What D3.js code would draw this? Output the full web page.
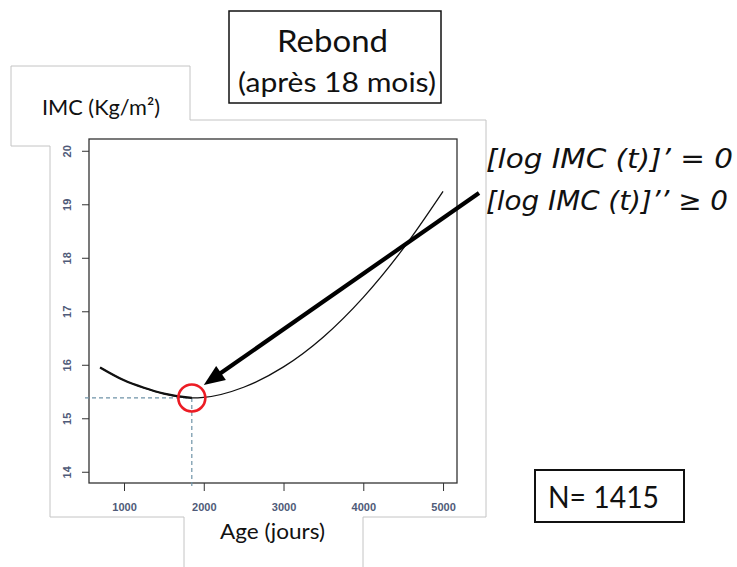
<!DOCTYPE html>
<html lang="fr">
<head>
  <meta charset="utf-8">
  <script src="https://cdn.jsdelivr.net/npm/d3@7"></script>
  <style>
    body { margin: 0; background: #fff; }
    svg { display: block; }
    .calibri { font-family: Lato, "Open Sans", sans-serif; fill: #111; }
    .tick text { font-family: "Liberation Sans", Arial, sans-serif; font-size: 11px; font-weight: bold; fill: #4f5a78; }
    .tick line { stroke: #333; }
  </style>
</head>
<body>
<svg id="chart" width="737" height="567"></svg>
<script>
  // values
  var ageDays = [700, 1000, 1250, 1500, 1850, 2000, 2500, 3000, 3500, 4000, 4500, 5000];
  var imcValues = [15.95, 15.71, 15.57, 15.46, 15.38, 15.39, 15.58, 15.96, 16.52, 17.26, 18.17, 19.24];
  var minAge = 1850, minImc = 15.38;
  var xTicks = [1000, 2000, 3000, 4000, 5000];
  var yTicks = [14, 15, 16, 17, 18, 19, 20];
  var formulaLines = ['[log IMC (t)]\u2019  = 0', '[log IMC (t)]\u2019\u2019 \u2265 0'];

  var width = 737, height = 567;
  var plot = { left: 89, right: 457, top: 139, bottom: 483 };

  var svg = d3.select('#chart');

  var x = d3.scaleLinear()
    .domain([561, 5175])
    .range([plot.left, plot.right]);

  var y = d3.scaleLinear()
    .domain([13.79, 20.22])
    .range([plot.bottom, plot.top]);

  // grey placeholder outline behind the plot
  svg.append('path')
    .attr('d', 'M363,567 V517 H486 V120 H190 V66 H11 V146 H50 V517 H184 V567')
    .attr('fill', 'none')
    .attr('stroke', '#c4c4c4')
    .attr('stroke-width', 1);

  function label(txt, px, py, size, len, anchor) {
    return svg.append('text').attr('class', 'calibri')
      .attr('x', px).attr('y', py)
      .attr('text-anchor', anchor || 'start')
      .attr('textLength', len)
      .attr('lengthAdjust', 'spacingAndGlyphs')
      .style('font-size', size + 'px')
      .text(txt);
  }

  // title box
  svg.append('rect')
    .attr('x', 229).attr('y', 11).attr('width', 212).attr('height', 92)
    .attr('fill', '#fff').attr('stroke', '#111').attr('stroke-width', 1.5);
  label('Rebond', 277, 52, 31, 111);
  label('(apr\u00e8s 18 mois)', 238, 92, 27, 198);

  // axis titles
  label('IMC (Kg/m\u00b2)', 42, 115, 22, 118);
  label('Age (jours)', 220, 539, 22, 105);

  // plot frame
  svg.append('rect')
    .attr('x', plot.left).attr('y', plot.top)
    .attr('width', plot.right - plot.left).attr('height', plot.bottom - plot.top)
    .attr('fill', 'none').attr('stroke', '#333').attr('stroke-width', 1.3);

  var xAxis = svg.append('g')
    .attr('transform', 'translate(0,' + plot.bottom + ')')
    .call(d3.axisBottom(x).tickValues(xTicks).tickFormat(d3.format('d')).tickSize(8).tickPadding(12));
  xAxis.select('.domain').remove();

  var yAxis = svg.append('g')
    .attr('transform', 'translate(' + plot.left + ',0)')
    .call(d3.axisLeft(y).tickValues(yTicks).tickFormat(d3.format('d')).tickSize(7));
  yAxis.select('.domain').remove();
  yAxis.selectAll('.tick text')
    .attr('transform', 'rotate(-90)')
    .attr('x', 0)
    .attr('y', -18)
    .attr('dy', 0)
    .style('text-anchor', 'middle');

  // dashed guides to the minimum
  var mx = x(minAge), my = y(minImc);
  svg.append('line')
    .attr('x1', plot.left - 4).attr('x2', mx)
    .attr('y1', my).attr('y2', my)
    .attr('stroke', '#6f93a8').attr('stroke-width', 1.2).attr('stroke-dasharray', '4,3');
  svg.append('line')
    .attr('x1', mx).attr('x2', mx)
    .attr('y1', my).attr('y2', plot.bottom + 5)
    .attr('stroke', '#6f93a8').attr('stroke-width', 1.2).attr('stroke-dasharray', '4,3');

  var points = ageDays.map(function (d, i) { return [d, imcValues[i]]; });
  var line = d3.line()
    .x(function (d) { return x(d[0]); })
    .y(function (d) { return y(d[1]); })
    .curve(d3.curveMonotoneX);

  svg.append('path')
    .attr('d', line(points))
    .attr('fill', 'none').attr('stroke', '#111').attr('stroke-width', 1.3);
  // left part is drawn heavier in the original
  svg.append('path')
    .attr('d', line(points.filter(function (d) { return d[0] <= minAge; })))
    .attr('fill', 'none').attr('stroke', '#111').attr('stroke-width', 2.3);

  // red circle on the rebound point
  svg.append('circle')
    .attr('cx', mx).attr('cy', my).attr('r', 13.5)
    .attr('fill', 'none').attr('stroke', '#ec1c24').attr('stroke-width', 2.6);

  // arrow from the formula to the circle
  var tip = [mx + 12, my - 13], tail = [479, 193];
  var dx = tip[0] - tail[0], dy = tip[1] - tail[1], len = Math.sqrt(dx * dx + dy * dy);
  var ux = dx / len, uy = dy / len, headLen = 21, headHalf = 8.5;
  var base = [tip[0] - headLen * ux, tip[1] - headLen * uy];
  svg.append('line')
    .attr('x1', tail[0]).attr('y1', tail[1])
    .attr('x2', base[0] + 2 * ux).attr('y2', base[1] + 2 * uy)
    .attr('stroke', '#000').attr('stroke-width', 4.2);
  svg.append('path')
    .attr('d', 'M' + tip + 'L' + [base[0] - headHalf * uy, base[1] + headHalf * ux] +
      'L' + [base[0] + headHalf * uy, base[1] - headHalf * ux] + 'Z')
    .attr('fill', '#000');

  // formula text
  svg.selectAll('text.formula')
    .data(formulaLines)
    .enter().append('text')
    .attr('class', 'formula')
    .attr('x', 486)
    .attr('y', function (d, i) { return 168 + i * 42; })
    .attr('textLength', function (d, i) { return i ? 242 : 247; })
    .attr('lengthAdjust', 'spacingAndGlyphs')
    .style('font-family', '"DejaVu Sans", Verdana, sans-serif')
    .style('font-style', 'italic')
    .style('font-size', '27px')
    .style('fill', '#111')
    .text(function (d) { return d; });

  // N box
  svg.append('rect')
    .attr('x', 535).attr('y', 470).attr('width', 149).attr('height', 52)
    .attr('fill', '#fff').attr('stroke', '#111').attr('stroke-width', 2);
  label('N= 1415', 548, 508, 31, 111);
</script>
</body>
</html>
